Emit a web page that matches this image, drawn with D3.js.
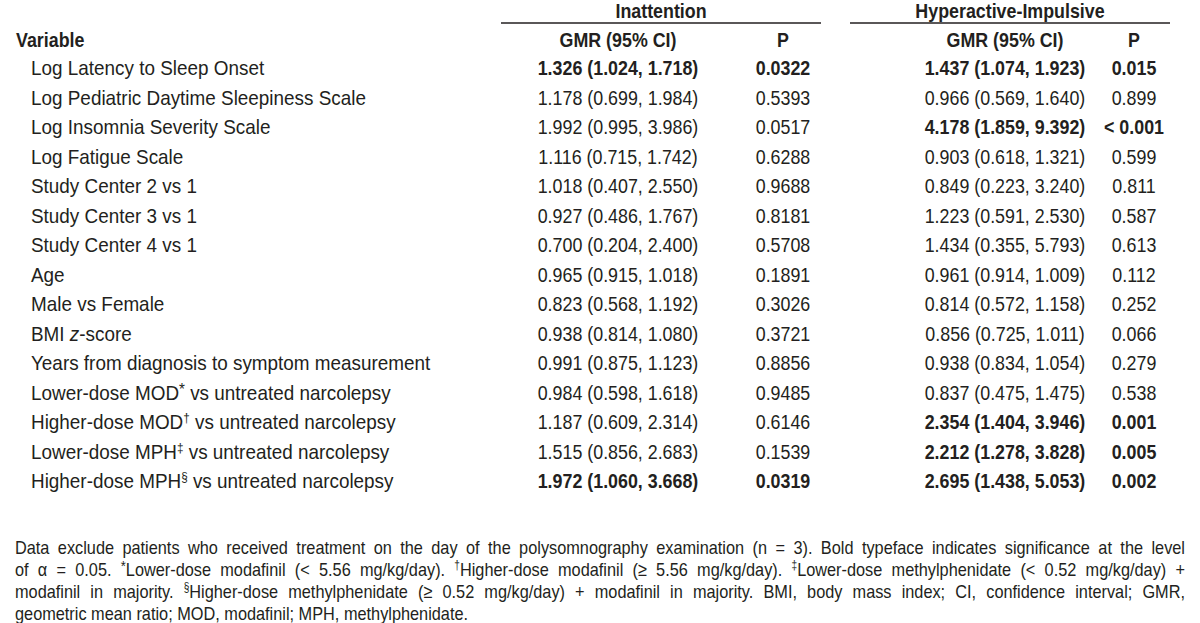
<!DOCTYPE html>
<html><head><meta charset="utf-8">
<script src="https://cdn.jsdelivr.net/npm/d3@7"></script>
<style>
html,body{margin:0;padding:0;background:#fff;}
svg text{font-family:"Liberation Sans",Arial,sans-serif;fill:#231f20;}
</style></head>
<body><svg id="c" width="1200" height="623"></svg>
<script>
// ---- data ----
const variables = [
  "Log Latency to Sleep Onset",
  "Log Pediatric Daytime Sleepiness Scale",
  "Log Insomnia Severity Scale",
  "Log Fatigue Scale",
  "Study Center 2 vs 1",
  "Study Center 3 vs 1",
  "Study Center 4 vs 1",
  "Age",
  "Male vs Female",
  "BMI _z_-score",
  "Years from diagnosis to symptom measurement",
  "Lower-dose MOD* vs untreated narcolepsy",
  "Higher-dose MOD† vs untreated narcolepsy",
  "Lower-dose MPH‡ vs untreated narcolepsy",
  "Higher-dose MPH§ vs untreated narcolepsy"
];
const inattGMR = [1.326, 1.178, 1.992, 1.116, 1.018, 0.927, 0.700, 0.965, 0.823, 0.938, 0.991, 0.984, 1.187, 1.515, 1.972];
const inattLo  = [1.024, 0.699, 0.995, 0.715, 0.407, 0.486, 0.204, 0.915, 0.568, 0.814, 0.875, 0.598, 0.609, 0.856, 1.060];
const inattHi  = [1.718, 1.984, 3.986, 1.742, 2.550, 1.767, 2.400, 1.018, 1.192, 1.080, 1.123, 1.618, 2.314, 2.683, 3.668];
const inattP   = ["0.0322","0.5393","0.0517","0.6288","0.9688","0.8181","0.5708","0.1891","0.3026","0.3721","0.8856","0.9485","0.6146","0.1539","0.0319"];
const hypGMR = [1.437, 0.966, 4.178, 0.903, 0.849, 1.223, 1.434, 0.961, 0.814, 0.856, 0.938, 0.837, 2.354, 2.212, 2.695];
const hypLo  = [1.074, 0.569, 1.859, 0.618, 0.223, 0.591, 0.355, 0.914, 0.572, 0.725, 0.834, 0.475, 1.404, 1.278, 1.438];
const hypHi  = [1.923, 1.640, 9.392, 1.321, 3.240, 2.530, 5.793, 1.009, 1.158, 1.011, 1.054, 1.475, 3.946, 3.828, 5.053];
const hypP   = ["0.015","0.899","< 0.001","0.599","0.811","0.587","0.613","0.112","0.252","0.066","0.279","0.538","0.001","0.005","0.002"];
const groupHeaders = ["Inattention", "Hyperactive-Impulsive"];
const columnHeaders = ["Variable", "GMR (95% CI)", "P", "GMR (95% CI)", "P"];
const alpha = 0.05;
const footnoteLines = [
  "Data exclude patients who received treatment on the day of the polysomnography examination (n = 3). Bold typeface indicates significance at the level",
  "of α = 0.05. *Lower-dose modafinil (< 5.56 mg/kg/day). †Higher-dose modafinil (≥ 5.56 mg/kg/day). ‡Lower-dose methylphenidate (< 0.52 mg/kg/day) +",
  "modafinil in majority. §Higher-dose methylphenidate (≥ 0.52 mg/kg/day) + modafinil in majority. BMI, body mass index; CI, confidence interval; GMR,",
  "geometric mean ratio; MOD, modafinil; MPH, methylphenidate."
];

// ---- layout ----
const SX = 0.85;           // narrow face: condensed Liberation Sans
const FS = 21, FL = 21, FN = 19.2;
const LSX = 0.9;           // labels a touch wider
const svg = d3.select("#c");
const cols = ["label","iGMR","iP","hGMR","hP"];
const x = d3.scaleOrdinal().domain(cols).range([31, 618, 783, 1005, 1134]);
const y = d3.scalePoint().domain(d3.range(variables.length)).range([68, 481]);
const groupX = d3.scaleOrdinal().domain(groupHeaders).range([[501, 821], [850, 1170]]);
const fmt = d3.format(".3f");
const sig = p => +String(p).replace(/[<\s]/g, "") < alpha;

function parse(str){
  const segs = [];
  const re = /([*†‡§])|_(.+?)_/g;
  let last = 0, m;
  while ((m = re.exec(str))){
    if (m.index > last) segs.push({t: str.slice(last, m.index)});
    if (m[1]) segs.push({t: m[1], sup: true});
    else segs.push({t: m[2], it: true});
    last = re.lastIndex;
  }
  if (last < str.length) segs.push({t: str.slice(last)});
  return segs;
}
function addSegs(sel, str, size){
  let prevSup = false;
  parse(str).forEach(s => {
    const ts = sel.append("tspan").text(s.t);
    if (s.sup){
      ts.attr("font-size", size*(s.t === "*" ? 0.8 : 0.62)).attr("baseline-shift", s.t === "*" ? "30%" : "super");
      prevSup = true;
    } else if (prevSup){
      ts.attr("baseline-shift", "0");
      prevSup = false;
    }
    if (s.it) ts.attr("font-style", "italic");
  });
}
function cell(cx, cy, str, opts){
  const sx = opts.sx || SX;
  const t = svg.append("text")
    .attr("transform", `translate(${cx},${cy}) scale(${sx},1)`)
    .attr("dy", "0.35em")
    .attr("font-size", opts.size || FS)
    .attr("text-anchor", opts.anchor || "middle")
    .attr("font-weight", opts.bold ? "bold" : "normal");
  addSegs(t, str, opts.size || FS);
  return t;
}

// group headers and rules
groupHeaders.forEach(g => {
  const [a, b] = groupX(g);
  cell((a+b)/2, 11, g, {bold: true});
  svg.append("line").attr("x1", a).attr("x2", b).attr("y1", 23).attr("y2", 23)
    .attr("stroke", "#231f20").attr("stroke-width", 1.6);
});
// column headers
cell(16, 40, columnHeaders[0], {bold: true, anchor: "start"});
cols.slice(1).forEach((c, i) => cell(x(c), 40, columnHeaders[i+1], {bold: true}));

// rows
variables.forEach((v, i) => {
  const cy = y(i);
  cell(x("label"), cy, v, {anchor: "start", sx: LSX, size: FL});
  const ib = sig(inattP[i]), hb = sig(hypP[i]);
  cell(x("iGMR"), cy, `${fmt(inattGMR[i])} (${fmt(inattLo[i])}, ${fmt(inattHi[i])})`, {bold: ib});
  cell(x("iP"), cy, inattP[i], {bold: ib});
  cell(x("hGMR"), cy, `${fmt(hypGMR[i])} (${fmt(hypLo[i])}, ${fmt(hypHi[i])})`, {bold: hb});
  cell(x("hP"), cy, hypP[i], {bold: hb});
});

// footnote (justified)
const fy = d3.scalePoint().domain(d3.range(footnoteLines.length)).range([547, 613]);
const fx0 = 15, fx1 = 1185;
footnoteLines.forEach((line, li) => {
  const g = svg.append("g").attr("transform", `translate(${fx0},${fy(li)}) scale(${SX},1)`);
  const words = line.split(" ");
  const nodes = words.map(w => {
    const t = g.append("text").attr("dy","0.35em").attr("font-size", FN);
    addSegs(t, w, FN);
    return t;
  });
  const widths = nodes.map(n => n.node().getComputedTextLength());
  const total = d3.sum(widths);
  const target = (fx1 - fx0) / SX;
  const justify = li < footnoteLines.length - 1;
  const gap = justify ? (target - total) / (words.length - 1) : FN * 0.278;
  let cx = 0;
  nodes.forEach((n, i) => { n.attr("x", cx); cx += widths[i] + gap; });
});
</script></body></html>
